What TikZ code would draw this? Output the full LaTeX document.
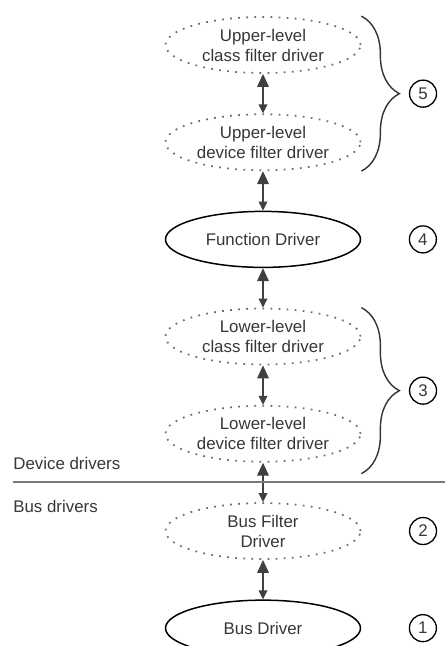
\documentclass[tikz,border=0pt]{standalone}
\usepackage{fontspec}
\setmainfont{Liberation Sans}
\usetikzlibrary{arrows.meta,positioning,calc,shapes.geometric,decorations.pathreplacing}
\definecolor{txtgray}{RGB}{55,55,55}
\definecolor{dotgray}{RGB}{110,110,110}
\definecolor{rulegray}{RGB}{120,120,120}

\begin{document}
\begin{tikzpicture}[
    node distance=0.79cm,
    font=\fontsize{9.6}{11.4}\selectfont,
    drv/.style={
        ellipse, draw=black, line width=0.85pt, text=txtgray,
        minimum width=3.9cm, minimum height=1.12cm, inner sep=0pt, align=center
    },
    filt/.style={drv, draw=dotgray, line width=1pt, dash pattern=on 1pt off 3.6pt},
    link/.style={{Triangle[length=0.26cm,width=0.23cm]}-{Triangle[length=0.18cm,width=0.17cm]}, line width=1.1pt, black!75},
    grp/.style={decorate, decoration={brace, amplitude=0.76cm}, line width=0.8pt, black!80},
    num/.style={circle, draw, line width=0.75pt, minimum size=0.54cm, inner sep=0pt, text=txtgray}
]
\useasboundingbox (0,0) rectangle (8.9,-12.92);

\node[filt] (uc) at (5.26,-0.90) {Upper-level\\class filter driver};
\node[filt, below=of uc] (ud) {Upper-level\\device filter driver};
\node[drv, below=of ud] (fd) {Function Driver};
\node[filt, below=of fd] (lc) {Lower-level\\class filter driver};
\node[filt, below=of lc] (ld) {Lower-level\\device filter driver};
\node[filt, below=of ld] (bf) {Bus Filter\\Driver};
\node[drv, below=of bf] (bd) {Bus Driver};

\draw[link] (uc) -- (ud);
\draw[link] (ud) -- (fd);
\draw[link] (fd) -- (lc);
\draw[link] (lc) -- (ld);
\draw[link] (ld) -- (bf);
\draw[link] (bf) -- (bd);

% braces and numbers
\coordinate (t5) at (uc.north -| uc.east);
\coordinate (b5) at (ud.south -| ud.east);
\draw[grp] (t5) -- (b5);
\node[num, right=0.95cm of $(t5)!0.5!(b5)$] (n5) {5};

\node[num, right=0.95cm of fd] (n4) {4};

\coordinate (t3) at (lc.north -| lc.east);
\coordinate (b3) at ($(ld.south -| ld.east)+(0,-0.22)$);
\draw[grp] (t3) -- (b3);
\node[num, right=0.95cm of $(t3)!0.5!(b3)$] (n3) {3};

\node[num, right=0.95cm of bf] (n2) {2};
\node[num, right=0.95cm of bd] (n1) {1};

% device / bus separator
\coordinate (xl) at (0.26,0);
\coordinate (xr) at (8.9,0);
\coordinate (sep) at ($(ld.south)!0.5!(bf.north)$);
\coordinate (sepL) at (sep -| xl);
\coordinate (sepR) at (sep -| xr);
\draw[rulegray, line width=1.1pt] (sepL) -- (sepR);
\node[anchor=base west, inner sep=0pt, text=txtgray] (devlbl) at ($(sepL)+(0,0.26)$) {Device drivers};
\node[anchor=base west, inner sep=0pt, text=txtgray] (buslbl) at ($(sepL)+(0,-0.6)$) {Bus drivers};
\end{tikzpicture}
\end{document}
